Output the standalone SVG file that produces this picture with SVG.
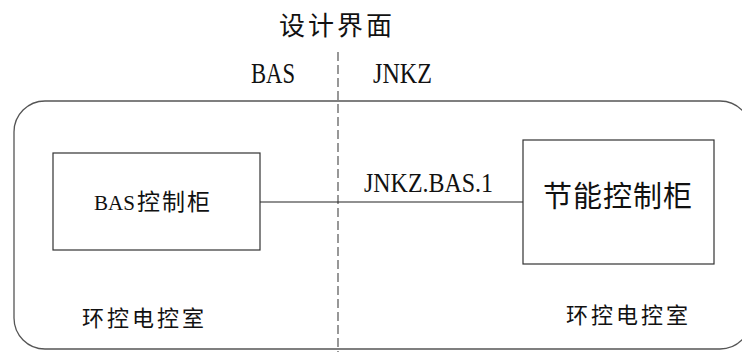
<svg xmlns="http://www.w3.org/2000/svg" width="742" height="352" viewBox="0 0 742 352">
<style>
.zone{fill:none;stroke:#555;stroke-width:1.3}
.box{fill:#fff;stroke:#333;stroke-width:1.2}
.conn{fill:none;stroke:#222;stroke-width:1.2}
.dash{fill:none;stroke:#444;stroke-width:1.1;stroke-dasharray:9 4}
.cjk{fill:#111}
.lat{fill:#111}
</style>
<rect width="742" height="352" fill="#fff"/>
<g id="zone">
<path class="zone" d="M45 101 H720 A31 31 0 0 1 751 132 V318 A31 31 0 0 1 720 349 H45 A31 31 0 0 1 14 318 V132 A31 31 0 0 1 45 101 Z"/>
<text class="cjk" font-family="'Noto Sans CJK SC', 'Noto Sans CJK JP', sans-serif" x="82" y="326" font-size="22" letter-spacing="3">环控电控室</text>
<text class="cjk" font-family="'Noto Sans CJK SC', 'Noto Sans CJK JP', sans-serif" x="566" y="323" font-size="22" letter-spacing="3">环控电控室</text>
</g>
<g id="title">
<text class="cjk" font-family="'Noto Sans CJK SC', 'Noto Sans CJK JP', sans-serif" x="279" y="35" font-size="26" letter-spacing="3">设计界面</text>
<text class="lat" font-family="'Liberation Serif', 'DejaVu Serif', serif" x="251" y="83" font-size="29" textLength="44" lengthAdjust="spacingAndGlyphs">BAS</text>
<text class="lat" font-family="'Liberation Serif', 'DejaVu Serif', serif" x="373" y="83" font-size="29" textLength="59" lengthAdjust="spacingAndGlyphs">JNKZ</text>
</g>
<g id="connectors">
<line class="dash" x1="338" y1="52" x2="338" y2="352"/>
<line class="conn" x1="260" y1="202" x2="523" y2="202"/>
<text class="lat" font-family="'Liberation Serif', 'DejaVu Serif', serif" x="364" y="192" font-size="27" textLength="129" lengthAdjust="spacingAndGlyphs">JNKZ.BAS.1</text>
</g>
<g id="bas-cabinet">
<rect class="box" x="53" y="153" width="207" height="97"/>
<text y="210" fill="#111"><tspan x="94" font-family="'Liberation Serif', 'DejaVu Serif', serif" font-size="22" textLength="41" lengthAdjust="spacingAndGlyphs">BAS</tspan><tspan x="137" font-family="'Noto Sans CJK SC', 'Noto Sans CJK JP', sans-serif" font-size="23" letter-spacing="2">控制柜</tspan></text>
</g>
<g id="jnkz-cabinet">
<rect class="box" x="523" y="140" width="191" height="124"/>
<text class="cjk" font-family="'Noto Sans CJK SC', 'Noto Sans CJK JP', sans-serif" x="543" y="207" font-size="29" letter-spacing="1">节能控制柜</text>
</g>
</svg>
